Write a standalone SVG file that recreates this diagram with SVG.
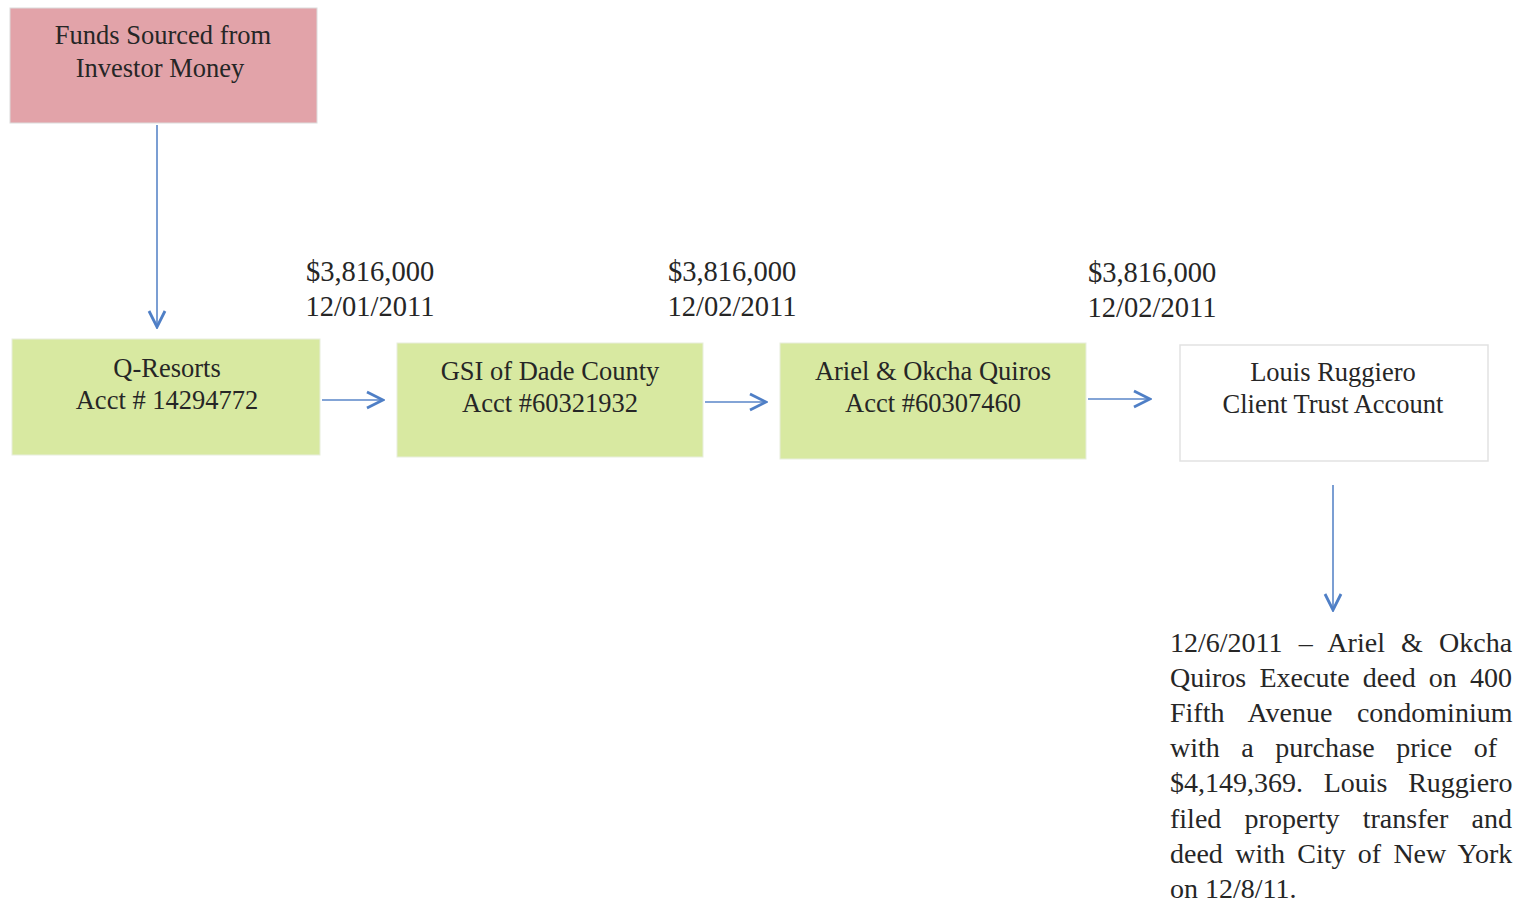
<svg xmlns="http://www.w3.org/2000/svg" width="1520" height="903" viewBox="0 0 1520 903">
  <style>
    .t { font-family: "Liberation Serif", "Times New Roman", serif; fill: #262626; }
    .box-text { font-size: 26.5px; text-anchor: middle; }
    .amt { font-size: 28.5px; text-anchor: middle; }
    .para { font-size: 28px; }
    .src { fill: #e2a3a9; stroke: #dcdcdc; stroke-width: 1; }
    .acct { fill: #d8e9a1; stroke: #e8eedc; stroke-width: 1; }
    .trust { fill: #ffffff; stroke: #e2e2e2; stroke-width: 1.5; }
    .flow { stroke: #5a86c8; stroke-width: 1.6; fill: none; marker-end: url(#chev); }
  </style>
  <defs>
    <marker id="chev" viewBox="0 0 20 20" refX="18" refY="10" markerWidth="20" markerHeight="20" markerUnits="userSpaceOnUse" orient="auto">
      <polyline points="2,2 18,10 2,18" fill="none" stroke="#4f7fc6" stroke-width="2.8"/>
    </marker>
  </defs>
  <rect width="1520" height="903" fill="#ffffff"/>

  <g id="funds-source">
    <rect class="src" x="10" y="8" width="307" height="115"/>
    <text class="t box-text" x="163" y="44">Funds Sourced from</text>
    <text class="t box-text" x="160" y="77">Investor Money</text>
  </g>

  <g id="q-resorts">
    <rect class="acct" x="12" y="339" width="308" height="116"/>
    <text class="t box-text" x="167" y="377">Q-Resorts</text>
    <text class="t box-text" x="167" y="409">Acct # 14294772</text>
  </g>

  <g id="gsi-dade">
    <rect class="acct" x="397" y="343" width="306" height="114"/>
    <text class="t box-text" x="550" y="380">GSI of Dade County</text>
    <text class="t box-text" x="550" y="412">Acct #60321932</text>
  </g>

  <g id="quiros">
    <rect class="acct" x="780" y="343" width="306" height="116"/>
    <text class="t box-text" x="933" y="380">Ariel &amp; Okcha Quiros</text>
    <text class="t box-text" x="933" y="412">Acct #60307460</text>
  </g>

  <g id="ruggiero-trust">
    <rect class="trust" x="1180" y="345" width="308" height="116"/>
    <text class="t box-text" x="1333" y="381">Louis Ruggiero</text>
    <text class="t box-text" x="1333" y="413">Client Trust Account</text>
  </g>

  <g id="transfer-labels">
    <text class="t amt" x="370" y="281">$3,816,000</text>
    <text class="t amt" x="370" y="316">12/01/2011</text>
    <text class="t amt" x="732" y="281">$3,816,000</text>
    <text class="t amt" x="732" y="316">12/02/2011</text>
    <text class="t amt" x="1152" y="282">$3,816,000</text>
    <text class="t amt" x="1152" y="317">12/02/2011</text>
  </g>

  <!-- justified paragraph: word-spacing set per line -->
  <g id="deed-note">
    <text class="t para" x="1170" y="652" word-spacing="9.2">12/6/2011 – Ariel &amp; Okcha</text>
    <text class="t para" x="1170" y="687" word-spacing="6.2">Quiros Execute deed on 400</text>
    <text class="t para" x="1170" y="722" word-spacing="17.5">Fifth Avenue condominium</text>
    <text class="t para" x="1170" y="757" word-spacing="14.5">with a purchase price of</text>
    <text class="t para" x="1170" y="792" word-spacing="13.7">$4,149,369. Louis Ruggiero</text>
    <text class="t para" x="1170" y="828" word-spacing="16.3">filed property transfer and</text>
    <text class="t para" x="1170" y="863" word-spacing="5.3">deed with City of New York</text>
    <text class="t para" x="1170" y="898">on 12/8/11.</text>
  </g>

  <g id="connectors">
    <line class="flow" x1="157" y1="125" x2="157" y2="327"/>
    <line class="flow" x1="322" y1="400" x2="383" y2="400"/>
    <line class="flow" x1="705" y1="402" x2="766" y2="402"/>
    <line class="flow" x1="1088" y1="399" x2="1150" y2="399"/>
    <line class="flow" x1="1333" y1="485" x2="1333" y2="610"/>
  </g>
</svg>
